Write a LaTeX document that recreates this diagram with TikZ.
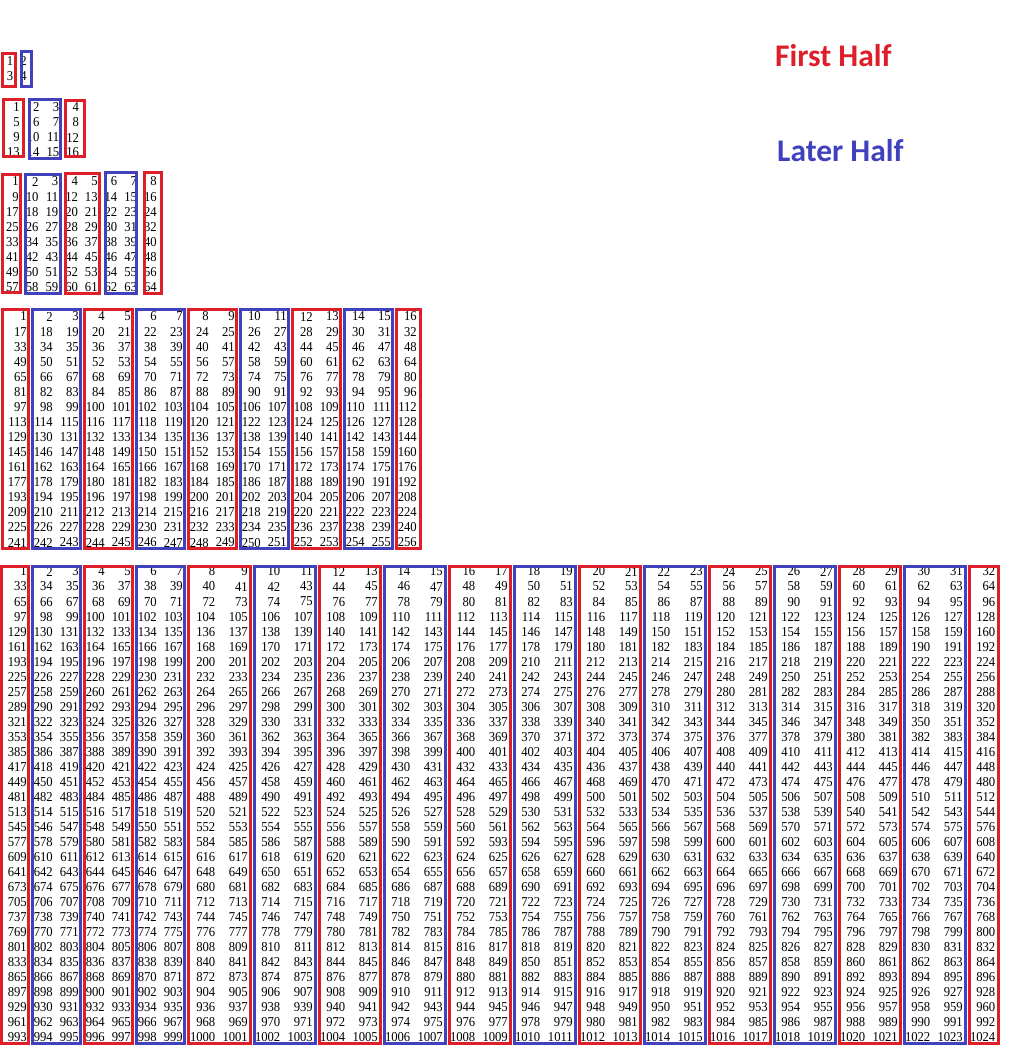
\documentclass[tikz,border=0pt]{standalone}
\usepackage{fontspec}
\newfontfamily\numfont[FakeStretch=0.93]{Liberation Serif}
\newfontfamily\labfont{Carlito}
\definecolor{boxred}{RGB}{222,30,40}
\definecolor{boxblue}{RGB}{65,65,190}
\pgfmathdeclarefunction{Rx}{1}{\pgfmathparse{(#1<=7)*(27+26*(#1-1))+(#1>7)*(183+32.5*(#1-7))}}
\begin{document}
\begin{tikzpicture}[x=1pt,y=-1pt,
  num/.style={anchor=east,inner sep=0pt,font=\numfont\fontsize{13.6}{15}\selectfont},
  redbox/.style={draw=boxred,line width=3pt},
  bluebox/.style={draw=boxblue,line width=3pt},
  lab/.style={anchor=base west,inner sep=0pt,font=\labfont\bfseries\fontsize{31.5}{36}\selectfont}]
\useasboundingbox (0,0) rectangle (1014,1056);

% ---------- labels
\node[lab,text=boxred] (first) at (775,67) {First Half};
\node[lab,text=boxblue] (later) at (777,162) {Later Half};

% ---------- grid 2x2
\foreach \r in {1,2}{\foreach \c in {1,2}{
  \pgfmathtruncatemacro\v{(\r-1)*2+\c}
  \node[num] (a\r-\c) at ({13.5+13.5*(\c-1)},{61.5+15*(\r-1)}) {\v};
}}
\draw[redbox] (2.5,53.5) rectangle (15.5,86.5);
\draw[bluebox] (21.5,51.5) rectangle (31.5,86.5);

% ---------- grid 4x4
\foreach \r in {1,...,4}{\foreach \c in {1,...,4}{
  \pgfmathtruncatemacro\v{(\r-1)*4+\c}
  \node[num] (b\r-\c) at ({20+19.7*(\c-1)},{107.5+15*(\r-1)}) {\v};
}}
\draw[redbox] (3,99.5) rectangle (23.5,156.5);
\draw[bluebox] (29.5,99.5) rectangle (60.5,158.5);
\draw[redbox] (65.5,100.5) rectangle (84.5,156.5);

% ---------- grid 8x8
\foreach \r in {1,...,8}{\foreach \c in {1,...,8}{
  \pgfmathtruncatemacro\v{(\r-1)*8+\c}
  \node[num] (c\r-\c) at ({19+19.7*(\c-1)},{181.5+15.1*(\r-1)}) {\v};
}}
\draw[redbox] (2.5,174.5) rectangle (20.5,292.5);
\draw[bluebox] (25.5,174.5) rectangle (60.5,293.5);
\draw[redbox] (65.5,173.5) rectangle (99.5,293.5);
\draw[bluebox] (105.5,172.5) rectangle (136.5,293.5);
\draw[redbox] (144.5,172.5) rectangle (161.5,293.5);

% ---------- grid 16x16
\foreach \r in {1,...,16}{\foreach \c in {1,...,16}{
  \pgfmathtruncatemacro\v{(\r-1)*16+\c}
  \node[num] (d\r-\c) at ({27+26*(\c-1)},{316.5+15.07*(\r-1)}) {\v};
}}
\draw[redbox] (2.5,309.5) rectangle (28.5,548.5);
\foreach \p in {1,...,7}{
  \pgfmathsetmacro\xl{27+26*(2*\p-2)+5.5}
  \pgfmathsetmacro\xr{27+26*(2*\p)+1.5}
  \ifodd\p\def\bs{bluebox}\else\def\bs{redbox}\fi
  \draw[\bs] (\xl,309.5) rectangle (\xr,548.5);
}
\draw[redbox] (396.5,309.5) rectangle (420.5,548.5);

% ---------- grid 32x32
\foreach \c in {1,...,32}{
  \pgfmathsetmacro\xx{Rx(\c)}
  \foreach \r in {1,...,32}{
    \pgfmathtruncatemacro\v{(\r-1)*32+\c}
    \node[num] (e\r-\c) at (\xx,{571.5+15.03*(\r-1)}) {\v};
}}
\draw[redbox] (1.5,566) rectangle (28.5,1043.5);
\foreach \p in {1,...,15}{
  \pgfmathsetmacro\xl{Rx(2*\p-1)+5.5+(2*\p-1>7)}
  \pgfmathsetmacro\xr{Rx(2*\p+1)+1.5+0.5*(2*\p+1>7)}
  \ifodd\p\def\bs{bluebox}\else\def\bs{redbox}\fi
  \draw[\bs] (\xl,566) rectangle (\xr,1043.5);
}
\pgfmathsetmacro\xl{Rx(31)+6.5}
\pgfmathsetmacro\xr{Rx(32)+2.5}
\draw[redbox] (\xl,566) rectangle (\xr,1043.5);
\end{tikzpicture}
\end{document}
